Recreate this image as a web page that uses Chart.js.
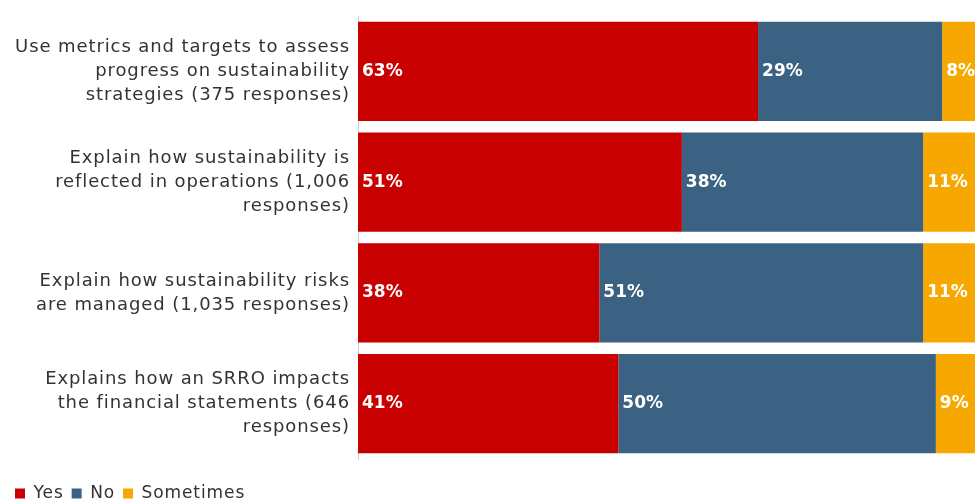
<!DOCTYPE html>
<html lang="en">
<head>
  <meta charset="UTF-8" />
  <title>Sustainability disclosures</title>
  <script src="https://cdn.jsdelivr.net/npm/chart.js"></script>
  <style>
    body {
      margin: 0;
      padding: 0;
      background: #fff;
      overflow: hidden;
    }

    .chart-container {
      position: relative;
      width: 993px; /* plot runs past the right edge like the original */
      height: 501px;
    }
  </style>
</head>
<body>
  <div class="chart-container">
    <canvas id="disclosureChart"></canvas>
  </div>

  <script>
    const categories = [
      ['Use metrics and targets to assess', 'progress on sustainability', 'strategies (375 responses)'],
      ['Explain how sustainability is', 'reflected in operations (1,006', 'responses)'],
      ['Explain how sustainability risks', 'are managed (1,035 responses)'],
      ['Explains how an SRRO impacts', 'the financial statements (646', 'responses)']
    ];
    const yesValues = [63, 51, 38, 41];
    const noValues = [29, 38, 51, 50];
    const sometimesValues = [8, 11, 11, 9];

    const fontFamily = "'DejaVu Sans', sans-serif";

    // the original font is wider, so spread the letters a bit
    const wideText = {
      id: 'wideText',
      beforeUpdate(chart) { chart.ctx.letterSpacing = '0.9px'; },
      beforeDraw(chart) { chart.ctx.letterSpacing = '0.9px'; }
    };

    // white percentage text at the start of each segment
    const segmentLabels = {
      id: 'segmentLabels',
      afterDatasetsDraw(chart) {
        const ctx = chart.ctx;
        ctx.save();
        ctx.letterSpacing = '0px';
        ctx.fillStyle = '#fff';
        ctx.font = 'bold 17px ' + fontFamily;
        ctx.textAlign = 'left';
        ctx.textBaseline = 'middle';
        chart.data.datasets.forEach((ds, i) => {
          const meta = chart.getDatasetMeta(i);
          meta.data.forEach((bar, j) => {
            const left = Math.min(bar.x, bar.base);
            ctx.fillText(ds.data[j] + '%', left + 4, bar.y);
          });
        });
        ctx.restore();
      }
    };

    const ctx = document.getElementById('disclosureChart').getContext('2d');
    new Chart(ctx, {
      type: 'bar',
      data: {
        labels: categories,
        datasets: [
          { label: 'Yes', data: yesValues, backgroundColor: '#c80000' },
          { label: 'No', data: noValues, backgroundColor: '#3b6282' },
          { label: 'Sometimes', data: sometimesValues, backgroundColor: '#f7a800' }
        ]
      },
      options: {
        indexAxis: 'y',
        responsive: true,
        maintainAspectRatio: false,
        animation: false,
        datasets: {
          bar: {
            categoryPercentage: 1,
            barPercentage: 0.895,
            borderWidth: 0
          }
        },
        layout: {
          padding: { top: 16, left: 7, right: 0, bottom: -11 }
        },
        plugins: {
          legend: {
            position: 'bottom',
            align: 'start',
            // empty title only used as a spacer above the legend row
            title: {
              display: true,
              text: '',
              font: { size: 1, lineHeight: 1 },
              padding: { top: 17, bottom: 0 }
            },
            labels: {
              boxWidth: 10,
              boxHeight: 10,
              padding: 8,
              color: '#333',
              font: { family: fontFamily, size: 17 }
            }
          },
          tooltip: { enabled: false }
        },
        scales: {
          x: {
            stacked: true,
            min: 0,
            max: 100,
            display: false
          },
          y: {
            stacked: true,
            afterFit(scale) {
              scale.width = 351;
              scale.paddingTop = 0;
              scale.paddingBottom = 0;
            },
            grid: { display: false, drawTicks: false },
            border: { display: true, color: '#d0d0d0', width: 1 },
            ticks: {
              color: '#333',
              padding: 8,
              font: { family: fontFamily, size: 18, lineHeight: 1.33 }
            }
          }
        }
      },
      plugins: [wideText, segmentLabels]
    });
  </script>
</body>
</html>
